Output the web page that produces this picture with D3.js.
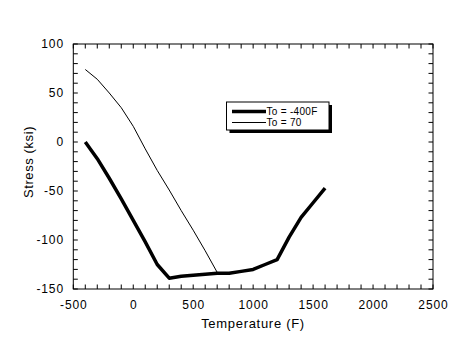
<!DOCTYPE html>
<html><head><meta charset="utf-8">
<script src="https://cdn.jsdelivr.net/npm/d3@7"></script>
<style>body{margin:0;background:#fff}svg{display:block}text{font-family:"Liberation Sans",Arial,sans-serif;fill:#000}</style>
</head><body>
<svg id="c" width="468" height="353"></svg>
<script>
const temps400 = [-400,-300,-200,-100,0,100,200,300,400,500,600,700,800,900,1000,1100,1200,1300,1400,1500,1600];
const stress400 = [0,-17,-37,-58,-80,-102,-125,-139,-137,-136,-135,-134,-134,-132,-130,-125,-120,-97,-77,-62,-47];
const temps70 = [-400,-300,-200,-100,0,100,200,300,400,500,600,700];
const stress70 = [74,64,50,35,16,-7,-29,-49,-70,-90,-111,-133];
const xTicks = [-500,0,500,1000,1500,2000,2500];
const yTicks = [-150,-100,-50,0,50,100];
const seriesNames = ["To = -400F","To = 70"];

const svg = d3.select("#c");
const L=73.3, R=433, T=44, B=289;
const x = d3.scaleLinear().domain([-500,2500]).range([L,R]);
const y = d3.scaleLinear().domain([-150,100]).range([B,T]);

const g = svg.append("g");
g.append("rect").attr("x",L).attr("y",T).attr("width",R-L).attr("height",B-T)
 .attr("fill","none").attr("stroke","#000").attr("stroke-width",1);

const xMinor = d3.range(-500,2501,100);
const yMinor = d3.range(-150,101,10);
const tl = 4.5;
xMinor.forEach(v=>{
  g.append("line").attr("x1",x(v)).attr("x2",x(v)).attr("y1",B).attr("y2",B-tl).attr("stroke","#000");
  g.append("line").attr("x1",x(v)).attr("x2",x(v)).attr("y1",T).attr("y2",T+tl).attr("stroke","#000");
});
yMinor.forEach(v=>{
  g.append("line").attr("y1",y(v)).attr("y2",y(v)).attr("x1",L).attr("x2",L+tl).attr("stroke","#000");
  g.append("line").attr("y1",y(v)).attr("y2",y(v)).attr("x1",R).attr("x2",R-tl).attr("stroke","#000");
});
xTicks.forEach(v=>{
  g.append("text").attr("x",x(v)+0.5).attr("y",309).attr("text-anchor","middle").attr("font-size",12)
   .attr("letter-spacing","0.9px").text(v);
});
yTicks.forEach(v=>{
  g.append("text").attr("x",64).attr("y",y(v)+4.3).attr("text-anchor","end").attr("font-size",12)
   .attr("letter-spacing","0.9px").text(v);
});
g.append("text").attr("x",253).attr("y",328).attr("text-anchor","middle").attr("font-size",13)
 .attr("letter-spacing","0.7px").text("Temperature (F)");
g.append("text").attr("transform","translate(33,162) rotate(-90)").attr("text-anchor","middle").attr("font-size",13)
 .attr("letter-spacing","0.6px").text("Stress (ksi)");

const line = d3.line().x(d=>x(d[0])).y(d=>y(d[1]));
g.append("path").datum(temps400.map((t,i)=>[t,stress400[i]])).attr("d",line)
 .attr("fill","none").attr("stroke","#000").attr("stroke-width",3.5).attr("stroke-linejoin","round");
g.append("path").datum(temps70.map((t,i)=>[t,stress70[i]])).attr("d",line)
 .attr("fill","none").attr("stroke","#000").attr("stroke-width",1);

// legend
const lx=226.5, ly=102, lw=102.5, lh=28;
g.append("rect").attr("x",lx+3).attr("y",ly+3).attr("width",lw).attr("height",lh).attr("fill","#000");
g.append("rect").attr("x",lx).attr("y",ly).attr("width",lw).attr("height",lh).attr("fill","#fff").attr("stroke","#000");
g.append("line").attr("x1",232).attr("x2",266).attr("y1",111.5).attr("y2",111.5).attr("stroke","#000").attr("stroke-width",3.5);
g.append("line").attr("x1",232).attr("x2",266).attr("y1",122.5).attr("y2",122.5).attr("stroke","#000").attr("stroke-width",1);
g.append("text").attr("x",266.5).attr("y",115).attr("font-size",10).attr("letter-spacing","0.3px").text(seriesNames[0]);
g.append("text").attr("x",266.5).attr("y",126.2).attr("font-size",10).attr("letter-spacing","0.3px").text(seriesNames[1]);
</script>
</body></html>
